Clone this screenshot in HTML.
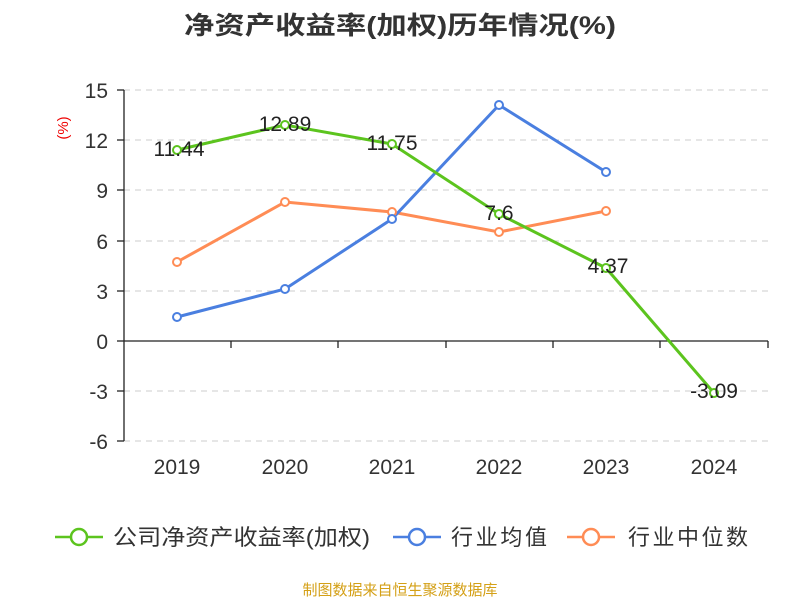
<!DOCTYPE html>
<html><head><meta charset="utf-8"><style>body{margin:0;background:#fff}</style></head><body>
<svg width="800" height="600" xmlns="http://www.w3.org/2000/svg" font-family="Liberation Sans, Noto Sans CJK SC, sans-serif">
<text x="400" y="34" text-anchor="middle" font-size="25" font-weight="bold" fill="#333" textLength="432" lengthAdjust="spacingAndGlyphs">净资产收益率(加权)历年情况(%)</text>
<text x="68" y="128" font-size="15" fill="#e00" transform="rotate(-90 68 128)" text-anchor="middle">(%)</text>
<g stroke="#ccc" stroke-dasharray="6,5" stroke-width="1">
<line x1="124" x2="768" y1="90" y2="90"/><line x1="124" x2="768" y1="140" y2="140"/><line x1="124" x2="768" y1="190" y2="190"/><line x1="124" x2="768" y1="241" y2="241"/><line x1="124" x2="768" y1="291" y2="291"/><line x1="124" x2="768" y1="391" y2="391"/><line x1="124" x2="768" y1="441" y2="441"/>
</g>
<g stroke="#222" stroke-width="1.3">
<line x1="124" x2="124" y1="90" y2="441"/><line x1="124" x2="768" y1="341" y2="341"/>
<line x1="117" x2="124" y1="90" y2="90"/><line x1="117" x2="124" y1="140" y2="140"/><line x1="117" x2="124" y1="190" y2="190"/><line x1="117" x2="124" y1="241" y2="241"/><line x1="117" x2="124" y1="291" y2="291"/><line x1="117" x2="124" y1="341" y2="341"/><line x1="117" x2="124" y1="391" y2="391"/><line x1="117" x2="124" y1="441" y2="441"/>
<line x1="231" x2="231" y1="341" y2="348"/><line x1="338" x2="338" y1="341" y2="348"/><line x1="446" x2="446" y1="341" y2="348"/><line x1="553" x2="553" y1="341" y2="348"/><line x1="660" x2="660" y1="341" y2="348"/><line x1="768" x2="768" y1="341" y2="348"/>
</g>
<g font-size="21" fill="#333" text-anchor="end">
<text x="108" y="98">15</text><text x="108" y="148">12</text><text x="108" y="198">9</text><text x="108" y="249">6</text><text x="108" y="299">3</text><text x="108" y="349">0</text><text x="108" y="399">-3</text><text x="108" y="449">-6</text>
</g>
<g font-size="21" fill="#333" text-anchor="middle">
<text x="177" y="474">2019</text><text x="285" y="474">2020</text><text x="392" y="474">2021</text><text x="499" y="474">2022</text><text x="606" y="474">2023</text><text x="714" y="474">2024</text>
</g>
<polyline fill="none" stroke="#ff8c55" stroke-width="3" points="177,262 285,202 392,212 499,232 606,211"/>
<polyline fill="none" stroke="#4a7fe0" stroke-width="3" points="177,317 285,289 392,219 499,105 606,172"/>
<polyline fill="none" stroke="#5cc41e" stroke-width="3" points="177,150 285,125 392,144 499,214 606,268 714,393"/>
<g fill="#fff" stroke-width="2">
<g stroke="#ff8c55"><circle cx="177" cy="262" r="4"/><circle cx="285" cy="202" r="4"/><circle cx="392" cy="212" r="4"/><circle cx="499" cy="232" r="4"/><circle cx="606" cy="211" r="4"/></g>
<g stroke="#4a7fe0"><circle cx="177" cy="317" r="4"/><circle cx="285" cy="289" r="4"/><circle cx="392" cy="219" r="4"/><circle cx="499" cy="105" r="4"/><circle cx="606" cy="172" r="4"/></g>
<g stroke="#5cc41e"><circle cx="177" cy="150" r="4"/><circle cx="285" cy="125" r="4"/><circle cx="392" cy="144" r="4"/><circle cx="499" cy="214" r="4"/><circle cx="606" cy="268" r="4"/><circle cx="714" cy="393" r="4"/></g>
</g>
<g font-size="21" fill="#222" text-anchor="middle">
<text x="179" y="156">11.44</text><text x="285" y="131">12.89</text><text x="392" y="150">11.75</text><text x="499" y="220">7.6</text><text x="608" y="273">4.37</text><text x="714" y="398">-3.09</text>
</g>
<g stroke-width="2.5" fill="#fff">
<line x1="55" x2="103" y1="537" y2="537" stroke="#5cc41e"/><circle cx="79" cy="537" r="8" stroke="#5cc41e"/>
<line x1="393" x2="441" y1="537" y2="537" stroke="#4a7fe0"/><circle cx="417" cy="537" r="8" stroke="#4a7fe0"/>
<line x1="567" x2="615" y1="537" y2="537" stroke="#ff8c55"/><circle cx="591" cy="537" r="8" stroke="#ff8c55"/>
</g>
<g font-size="22" fill="#333">
<text x="113" y="545" textLength="257" lengthAdjust="spacingAndGlyphs">公司净资产收益率(加权)</text><text x="451" y="545" textLength="96">行业均值</text><text x="628" y="545" textLength="120">行业中位数</text>
</g>
<text x="400" y="595" text-anchor="middle" font-size="15" fill="#d4a017">制图数据来自恒生聚源数据库</text>
</svg>
</body></html>
